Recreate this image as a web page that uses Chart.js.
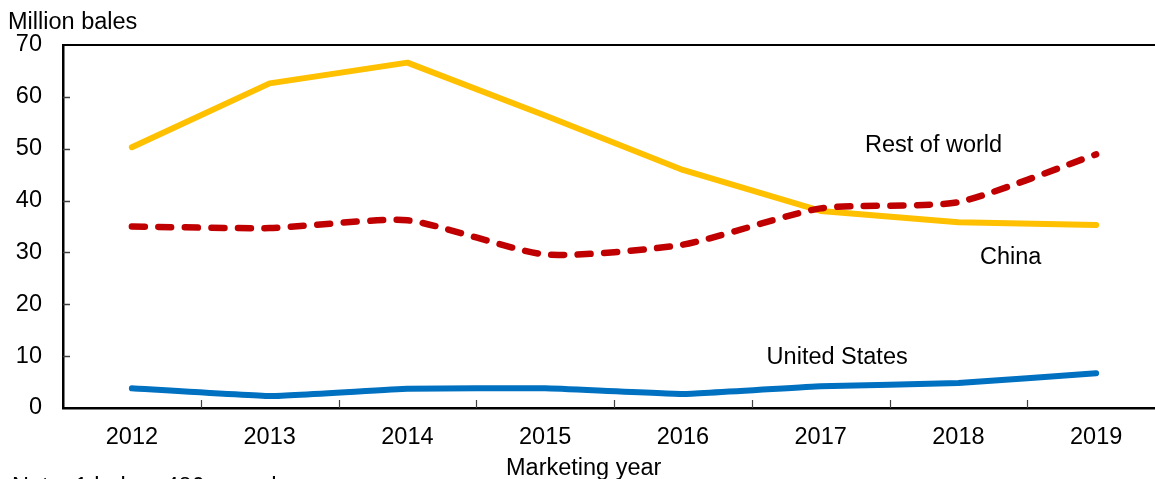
<!DOCTYPE html>
<html>
<head>
<meta charset="utf-8">
<script src="https://cdn.jsdelivr.net/npm/chart.js@4"></script>
<style>
  html, body { margin: 0; padding: 0; background: #fff; overflow: hidden; }
  #wrap { width: 1155px; height: 479px; overflow: hidden; }
</style>
</head>
<body>
<div id="wrap"><canvas id="lineChart" width="1170" height="479"></canvas></div>
<script>
var years = ["2012", "2013", "2014", "2015", "2016", "2017", "2018", "2019"];
var restOfWorld = [35.0, 34.7, 36.2, 29.6, 31.5, 38.5, 39.7, 48.9];
var china = [50.3, 62.6, 66.6, 56.4, 45.9, 38.0, 35.8, 35.3];
var unitedStates = [3.8, 2.3, 3.7, 3.8, 2.7, 4.2, 4.8, 6.7];
var yTicks = [0, 10, 20, 30, 40, 50, 60, 70];

var FONT = "'Liberation Sans', Arial, sans-serif";

var lineData = {
  labels: years,
  datasets: [
    {
      label: "Rest of world",
      data: restOfWorld,
      borderColor: "#C00000",
      borderWidth: 6.5,
      borderDash: [13, 13.5],
      borderCapStyle: "round",
      borderJoinStyle: "round",
      tension: 0.2,
      pointRadius: 0,
      order: 0
    },
    {
      label: "China",
      data: china,
      borderColor: "#FFC000",
      borderWidth: 6,
      borderCapStyle: "round",
      borderJoinStyle: "round",
      tension: 0,
      pointRadius: 0,
      order: 1
    },
    {
      label: "United States",
      data: unitedStates,
      borderColor: "#0070C0",
      borderWidth: 6,
      borderCapStyle: "round",
      borderJoinStyle: "round",
      tension: 0.1,
      pointRadius: 0,
      order: 2
    }
  ]
};

// series labels, placed in data units
var seriesLabels = [
  {text: "Rest of world", x: 5.82, y: 50.6},
  {text: "China", x: 6.38, y: 29.0},
  {text: "United States", x: 5.12, y: 9.8}
];

var extras = {
  id: "extras",
  beforeDatasetsDraw: function(chart) {
    var c = chart.ctx, a = chart.chartArea;
    var xs = chart.scales.x, ys = chart.scales.y;
    c.save();
    // top frame
    c.strokeStyle = "#000";
    c.lineWidth = 2;
    c.beginPath();
    c.moveTo(a.left, a.top);
    c.lineTo(a.right, a.top);
    c.stroke();
    // inward tick marks
    c.strokeStyle = "#404040";
    c.lineWidth = 1.5;
    yTicks.forEach(function(v) {
      if (v === 0 || v === 70) return;
      var py = Math.round(ys.getPixelForValue(v)) + 0.5;
      c.beginPath();
      c.moveTo(a.left, py);
      c.lineTo(a.left + 7, py);
      c.stroke();
    });
    c.lineWidth = 1.2;
    for (var i = 1; i < years.length; i++) {
      var px = Math.round(xs.getPixelForValue(i - 0.5)) + 0.5;
      c.beginPath();
      c.moveTo(px, a.bottom);
      c.lineTo(px, a.bottom - 8);
      c.stroke();
    }
    c.restore();
  },
  afterDraw: function(chart) {
    var c = chart.ctx;
    var xs = chart.scales.x, ys = chart.scales.y;
    c.save();
    c.fillStyle = "#000";
    c.font = "23.5px " + FONT;
    c.textBaseline = "alphabetic";
    c.textAlign = "left";
    c.fillText("Million bales", 8, 28.5);
    c.fillText("Note: 1 bale = 480 pounds.", 12, 494);
    c.textAlign = "center";
    c.textBaseline = "middle";
    seriesLabels.forEach(function(l) {
      c.fillText(l.text, xs.getPixelForValue(l.x), ys.getPixelForValue(l.y));
    });
    c.fillText("Marketing year", xs.getPixelForValue(3.28), 469);
    c.restore();
  }
};

var lineOptions = {
  responsive: false,
  animation: false,
  layout: {padding: {top: 45, right: 5, left: 0, bottom: 0}},
  plugins: {legend: {display: false}, tooltip: {enabled: false}},
  scales: {
    x: {
      type: "category",
      offset: true,
      grid: {display: true, drawOnChartArea: false, drawTicks: false},
      border: {display: true, color: "#000", width: 2.5},
      ticks: {color: "#000", font: {family: FONT, size: 23.5}, padding: 15, maxRotation: 0, autoSkip: false},
      afterFit: function(s) { s.height = 71; }
    },
    y: {
      min: 0,
      max: 70,
      afterBuildTicks: function(s) { s.ticks = yTicks.map(function(v) { return {value: v}; }); },
      grid: {display: true, drawOnChartArea: false, drawTicks: false},
      border: {display: true, color: "#000", width: 2.5},
      ticks: {color: "#000", font: {family: FONT, size: 23.5}, padding: 21},
      afterFit: function(s) { s.width = 63; }
    }
  }
};

var ctx = document.getElementById("lineChart").getContext("2d");
new Chart(ctx, {type: "line", data: lineData, options: lineOptions, plugins: [extras]});
</script>
</body>
</html>
